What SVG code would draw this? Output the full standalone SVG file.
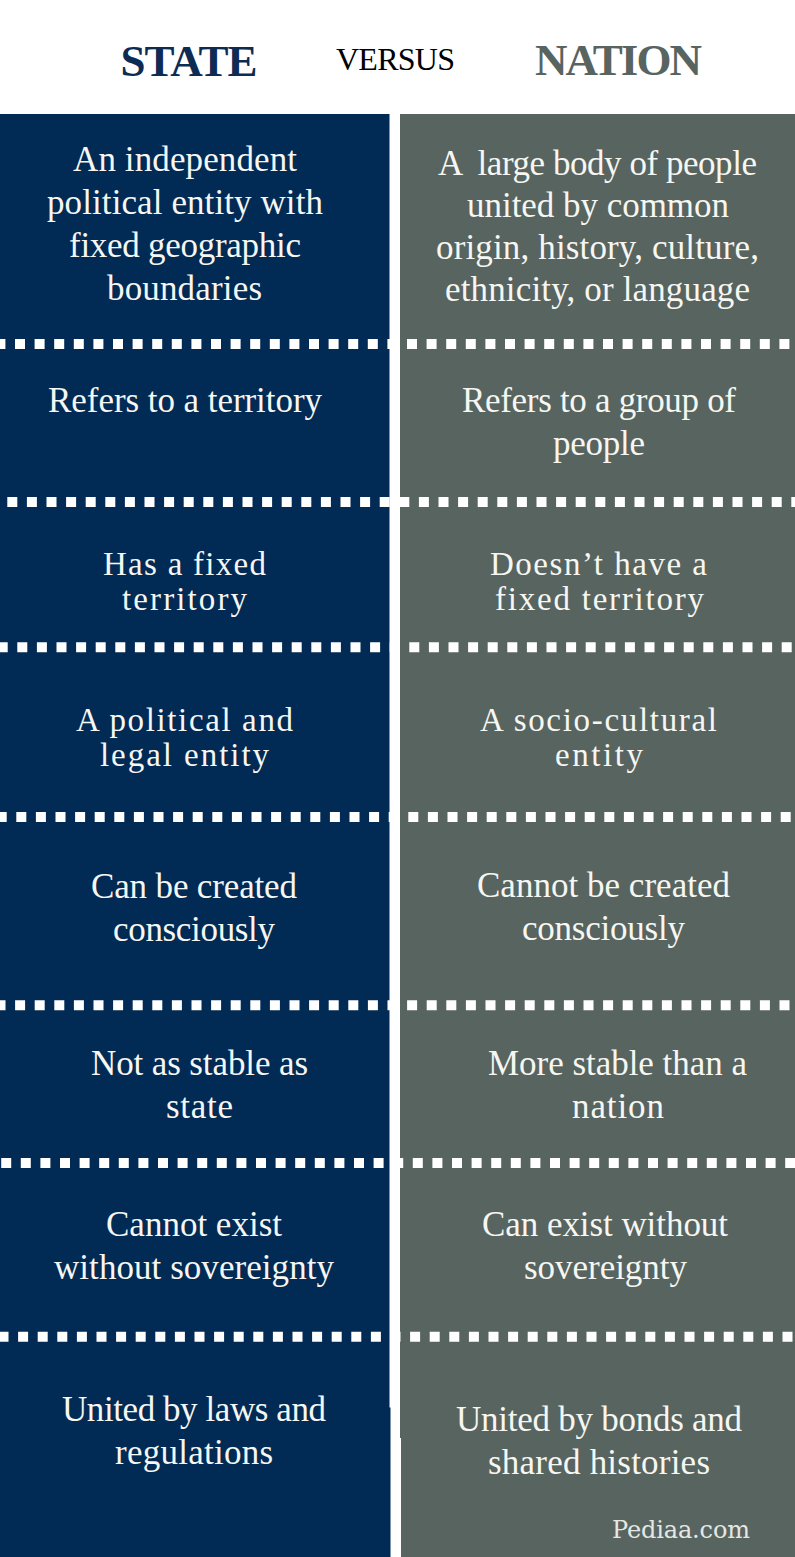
<svg xmlns="http://www.w3.org/2000/svg" width="795" height="1557" viewBox="0 0 795 1557">
<style>
text{font-family:"Liberation Serif","DejaVu Serif",serif}
.h{font-weight:700;font-size:45px}
.t{font-size:35px;fill:#f6f6f2}
.s{font-size:33px}
.d{stroke:#fff;stroke-width:10;stroke-dasharray:10 9.6;fill:none}
.a{fill:#012a55}
.b{fill:#58645f}
</style>
<rect width="795" height="1557" fill="#fff"/>
<g id="header">
<text class="h" x="120.5" y="76" textLength="137" lengthAdjust="spacing" fill="#0d2c54">STATE</text>
<text x="336" y="70" font-size="32" textLength="119" lengthAdjust="spacing" fill="#000">VERSUS</text>
<text class="h" x="535" y="75" textLength="167" lengthAdjust="spacing" fill="#58645f">NATION</text>
</g>
<g id="panels">
<path class="a" d="M0 114H389.5V1407.5H390.5V1557H0Z"/>
<path class="b" d="M400 114H795V1557H401V1438H400Z"/>
</g>
<g id="separators">
<line class="d" x1="-4.6" y1="344" x2="795" y2="344"/>
<line class="d" x1="7.3" y1="502" x2="795" y2="502"/>
<line class="d" x1="-2.3" y1="647.3" x2="795" y2="647.3"/>
<line class="d" x1="-3.3" y1="817" x2="795" y2="817"/>
<line class="d" x1="-4.5" y1="1005.2" x2="795" y2="1005.2"/>
<line class="d" x1="1.2" y1="1163" x2="795" y2="1163"/>
<line class="d" x1="-1.5" y1="1336.7" x2="795" y2="1336.7"/>
</g>
<g id="state-cells">
<g id="s1"><text class="t" x="73" y="171" textLength="224">An independent</text><text class="t" x="47" y="213.7" textLength="276">political entity with</text><text class="t" x="69" y="257" textLength="232">fixed geographic</text><text class="t" x="107" y="300" textLength="155">boundaries</text></g>
<g id="s2"><text class="t" x="48" y="412" textLength="274">Refers to a territory</text></g>
<g id="s3"><text class="t s" x="103" y="575" textLength="163">Has a fixed</text><text class="t s" x="122" y="610" textLength="125">territory</text></g>
<g id="s4"><text class="t s" x="76" y="731" textLength="217">A political and</text><text class="t s" x="100" y="766" textLength="169">legal entity</text></g>
<g id="s5"><text class="t" x="91" y="898" textLength="206">Can be created</text><text class="t" x="113" y="941" textLength="162">consciously</text></g>
<g id="s6"><text class="t" x="91" y="1075" textLength="217">Not as stable as</text><text class="t" x="166" y="1118" textLength="67">state</text></g>
<g id="s7"><text class="t" x="106" y="1236" textLength="176">Cannot exist</text><text class="t" x="54" y="1279" textLength="280">without sovereignty</text></g>
<g id="s8"><text class="t" x="62" y="1421" textLength="264">United by laws and</text><text class="t" x="115" y="1464" textLength="158">regulations</text></g>
</g>
<g id="nation-cells">
<g id="n1"><text class="t" xml:space="preserve" x="438" y="175" textLength="319">A  large body of people</text><text class="t" x="467" y="217" textLength="262">united by common</text><text class="t" x="436" y="259" textLength="323">origin, history, culture,</text><text class="t" x="445" y="301" textLength="305">ethnicity, or language</text></g>
<g id="n2"><text class="t" x="462" y="412" textLength="274">Refers to a group of</text><text class="t" x="553" y="455" textLength="92">people</text></g>
<g id="n3"><text class="t s" x="490" y="575" textLength="217">Doesn’t have a</text><text class="t s" x="495" y="610" textLength="209">fixed territory</text></g>
<g id="n4"><text class="t s" x="480" y="731" textLength="237">A socio-cultural</text><text class="t s" x="555" y="766" textLength="88">entity</text></g>
<g id="n5"><text class="t" x="477" y="897" textLength="253">Cannot be created</text><text class="t" x="522" y="940" textLength="163">consciously</text></g>
<g id="n6"><text class="t" x="488" y="1075" textLength="259">More stable than a</text><text class="t" x="572" y="1118" textLength="92">nation</text></g>
<g id="n7"><text class="t" x="482" y="1236" textLength="246">Can exist without</text><text class="t" x="524" y="1279" textLength="163">sovereignty</text></g>
<g id="n8"><text class="t" x="456" y="1431" textLength="286">United by bonds and</text><text class="t" x="488" y="1474" textLength="222">shared histories</text></g>
</g>
<g id="watermark"><text x="612" y="1538" font-size="24" style="font-family:'DejaVu Serif',serif" textLength="138" fill="#e4e8e5">Pediaa.com</text></g>
</svg>
